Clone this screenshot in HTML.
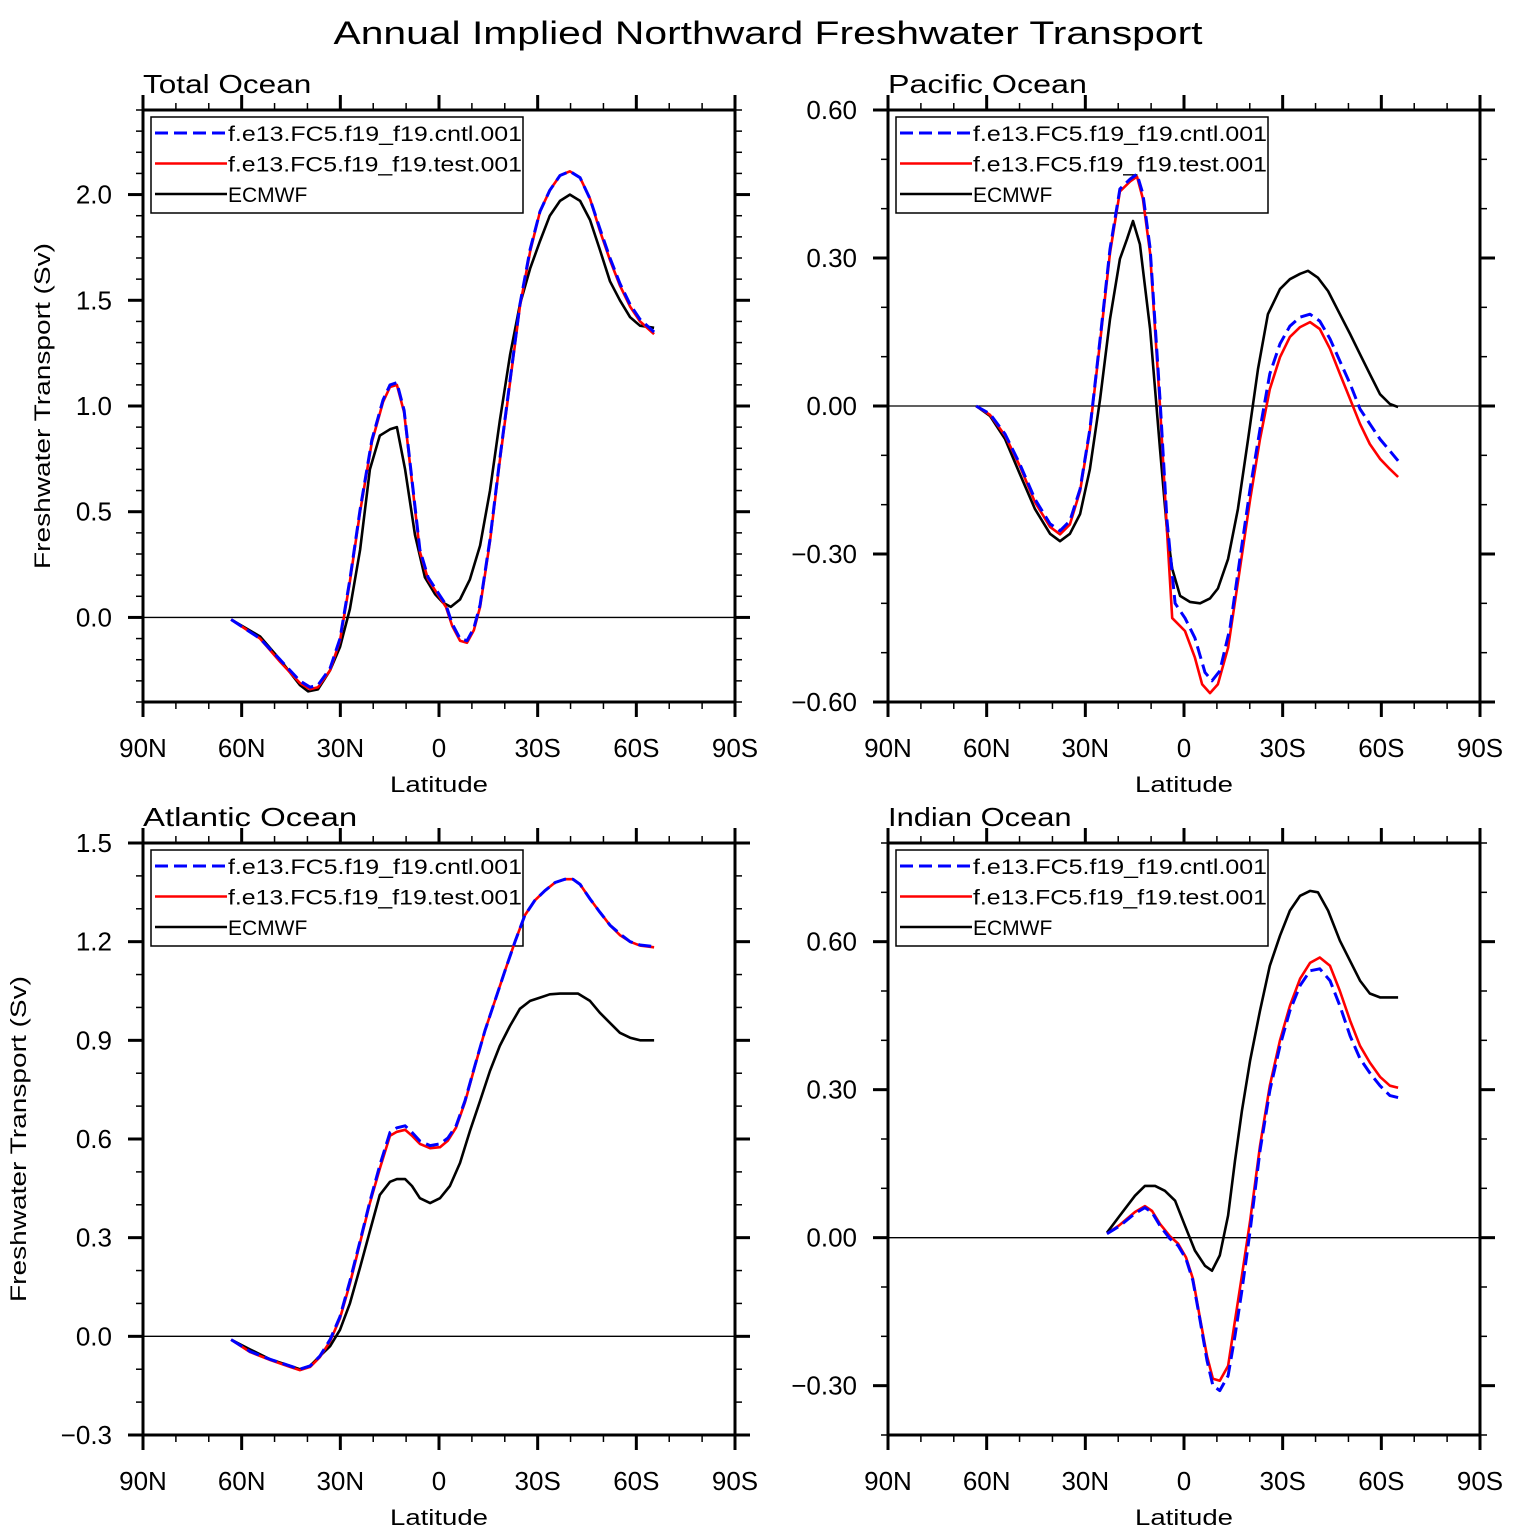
<!DOCTYPE html>
<html><head><meta charset="utf-8">
<style>
html,body{margin:0;padding:0;background:#fff;}
svg{display:block;font-family:"Liberation Sans",sans-serif;}
</style></head>
<body>
<svg id="fig" width="1535" height="1535" viewBox="0 0 1535 1535" xmlns="http://www.w3.org/2000/svg">
<text x="768" y="44" font-size="32" text-anchor="middle" textLength="869" lengthAdjust="spacingAndGlyphs">Annual Implied Northward Freshwater Transport</text>
</svg>
<script>
// ---- Total Ocean ----
const totLatCntl=[63.2,54.4,48.3,42.3,39.2,36.8,33.1,30.1,27.1,24.0,20.4,17.0,14.9,12.8,10.6,8.2,5.8,3.3,0,-2.1,-4.0,-6.4,-8.5,-10.6,-12.5,-15.5,-18.5,-21.6,-24.6,-27.7,-30.7,-33.7,-36.8,-39.8,-42.9,-45.9,-48.9,-52.0,-55.0,-58.1,-61.1,-65.4];
const totCntl=[-0.01,-0.10,-0.2,-0.30,-0.33,-0.32,-0.24,-0.1,0.18,0.51,0.84,1.03,1.10,1.11,0.98,0.65,0.32,0.19,0.11,0.06,-0.03,-0.10,-0.11,-0.05,0.06,0.37,0.75,1.12,1.48,1.74,1.92,2.02,2.09,2.11,2.08,1.98,1.84,1.70,1.58,1.48,1.41,1.35];
const totTest=[-0.01,-0.10,-0.21,-0.31,-0.34,-0.33,-0.25,-0.11,0.17,0.50,0.83,1.02,1.09,1.10,0.97,0.64,0.31,0.18,0.10,0.05,-0.04,-0.11,-0.12,-0.06,0.05,0.36,0.74,1.11,1.47,1.73,1.92,2.02,2.09,2.11,2.08,1.98,1.83,1.69,1.57,1.47,1.40,1.34];
const totLatObs=[63.2,54.4,48.3,42.3,39.8,36.8,33.1,30.1,27.1,24.0,21.0,18.0,14.9,12.8,10.3,7.3,4.3,1.2,-1.2,-3.6,-6.4,-9.4,-12.5,-15.5,-18.5,-21.6,-24.6,-27.7,-30.7,-33.7,-36.8,-39.8,-42.9,-45.9,-48.9,-52.0,-55.0,-58.1,-61.1,-65.4];
const totObs=[-0.01,-0.09,-0.2,-0.32,-0.35,-0.34,-0.25,-0.14,0.04,0.32,0.70,0.86,0.89,0.90,0.70,0.39,0.19,0.11,0.07,0.05,0.085,0.18,0.34,0.60,0.93,1.24,1.48,1.65,1.78,1.90,1.97,2.00,1.97,1.88,1.74,1.59,1.50,1.42,1.38,1.37];
// ---- Pacific Ocean ----
const pacLatCntl=[63.2,59.0,54.4,49.9,45.3,40.7,37.7,34.7,31.6,28.6,25.5,22.5,19.5,16.4,14.3,12.5,10.3,7.3,5.2,3.6,2.7,-0.3,-3.3,-6.4,-8.5,-10.9,-14.0,-17.0,-20.1,-23.1,-26.1,-29.2,-32.2,-35.3,-38.3,-41.3,-44.4,-47.4,-50.5,-53.5,-56.5,-59.6,-62.6,-65.1];
const pacCntl=[0,-0.016,-0.057,-0.118,-0.189,-0.239,-0.253,-0.233,-0.168,-0.047,0.136,0.318,0.44,0.46,0.47,0.43,0.32,0.014,-0.23,-0.34,-0.40,-0.43,-0.47,-0.54,-0.557,-0.537,-0.45,-0.31,-0.168,-0.047,0.065,0.126,0.162,0.18,0.186,0.172,0.136,0.091,0.045,-0.006,-0.036,-0.067,-0.091,-0.111];
const pacLatTest=[63.2,59.0,54.4,49.9,45.3,40.7,37.7,34.7,31.6,28.6,25.5,22.5,19.5,16.4,14.3,12.5,10.3,7.3,5.2,3.6,-0.3,-3.3,-5.5,-7.9,-10.3,-13.4,-17.0,-20.1,-23.1,-26.1,-29.2,-32.2,-35.3,-38.3,-41.3,-44.4,-47.4,-50.5,-53.5,-56.5,-59.6,-62.6,-65.1];
const pacTest=[0,-0.018,-0.06,-0.122,-0.195,-0.245,-0.26,-0.24,-0.172,-0.05,0.13,0.31,0.435,0.455,0.465,0.42,0.31,0.0,-0.25,-0.43,-0.456,-0.51,-0.564,-0.582,-0.564,-0.49,-0.33,-0.19,-0.067,0.034,0.099,0.14,0.16,0.17,0.156,0.116,0.065,0.014,-0.036,-0.077,-0.107,-0.128,-0.144];
const pacLatObs=[63.2,59.0,54.4,49.9,45.3,40.7,37.7,34.7,31.6,28.6,25.5,22.5,19.5,17.3,15.5,13.4,10.3,7.3,5.2,3.6,1.2,-1.8,-4.9,-7.9,-10.3,-13.4,-16.4,-19.5,-22.5,-25.5,-29.2,-32.2,-35.3,-37.7,-40.7,-43.8,-47.4,-50.5,-53.5,-56.5,-59.6,-62.6,-65.1];
const pacObs=[0,-0.02,-0.067,-0.138,-0.209,-0.259,-0.274,-0.259,-0.219,-0.128,0.014,0.176,0.298,0.339,0.375,0.328,0.156,-0.087,-0.249,-0.33,-0.385,-0.397,-0.40,-0.39,-0.37,-0.31,-0.209,-0.067,0.075,0.186,0.237,0.257,0.268,0.274,0.26,0.233,0.186,0.146,0.105,0.065,0.024,0.004,-0.002];
// ---- Atlantic Ocean ----
const atlLatCntl=[63.2,57.4,51.3,45.3,42.3,39.2,36.2,33.1,30.1,27.1,24.0,21.0,18.0,14.9,12.8,10.3,8.2,5.8,2.7,-0.3,-2.7,-5.2,-7.9,-10.9,-14.0,-17.0,-20.0,-23.1,-26.1,-29.1,-32.2,-35.3,-38.3,-40.7,-42.9,-45.9,-48.9,-52.0,-55.0,-58.1,-61.1,-65.4];
const atlCntl=[-0.01,-0.046,-0.07,-0.09,-0.10,-0.09,-0.06,-0.01,0.06,0.168,0.29,0.41,0.52,0.62,0.634,0.64,0.62,0.594,0.58,0.585,0.603,0.64,0.716,0.822,0.93,1.02,1.11,1.20,1.28,1.325,1.355,1.38,1.39,1.39,1.374,1.33,1.29,1.25,1.224,1.20,1.19,1.185];
const atlTest=[-0.01,-0.048,-0.072,-0.093,-0.103,-0.093,-0.063,-0.015,0.055,0.16,0.285,0.405,0.51,0.61,0.622,0.628,0.61,0.585,0.572,0.575,0.595,0.635,0.712,0.82,0.93,1.02,1.11,1.20,1.28,1.325,1.355,1.38,1.39,1.39,1.374,1.33,1.29,1.25,1.22,1.20,1.188,1.183];
const atlLatObs=[63.2,57.4,51.3,45.3,42.3,39.2,36.2,33.1,30.1,27.1,24.0,21.0,18.0,14.9,12.8,10.3,8.2,5.8,2.7,-0.3,-3.3,-6.4,-9.4,-12.5,-15.5,-18.5,-21.6,-24.6,-27.7,-30.7,-33.7,-36.8,-39.8,-42.3,-45.9,-48.9,-52.0,-55.0,-58.1,-61.1,-65.4];
const atlObs=[-0.01,-0.04,-0.07,-0.09,-0.10,-0.09,-0.06,-0.03,0.02,0.10,0.21,0.32,0.43,0.47,0.478,0.478,0.457,0.42,0.405,0.42,0.457,0.527,0.624,0.716,0.807,0.883,0.944,0.996,1.02,1.03,1.04,1.042,1.042,1.042,1.02,0.984,0.953,0.923,0.908,0.90,0.90];
// ---- Indian Ocean ----
const indLatCntl=[23.4,19.5,14.9,11.9,9.7,7.3,4.3,1.8,-0.6,-2.7,-4.9,-7.0,-8.8,-10.9,-13.4,-15.5,-17.6,-20.1,-23.1,-26.1,-29.2,-32.2,-35.3,-38.3,-41.3,-44.4,-47.4,-50.5,-53.5,-56.5,-59.6,-62.6,-65.1];
const indCntl=[0.008,0.024,0.049,0.061,0.051,0.024,-0.002,-0.016,-0.043,-0.087,-0.168,-0.249,-0.30,-0.31,-0.28,-0.199,-0.107,0.014,0.176,0.298,0.389,0.46,0.511,0.541,0.545,0.521,0.47,0.409,0.363,0.334,0.308,0.288,0.284];
const indTest=[0.008,0.026,0.052,0.064,0.054,0.028,0.003,-0.012,-0.04,-0.083,-0.164,-0.24,-0.286,-0.29,-0.26,-0.168,-0.077,0.034,0.186,0.308,0.40,0.47,0.525,0.557,0.568,0.551,0.50,0.44,0.389,0.355,0.326,0.308,0.304];
const indLatObs=[23.4,19.5,14.9,11.9,8.8,5.8,2.7,-0.3,-3.3,-6.4,-8.5,-10.9,-13.4,-15.5,-17.6,-20.1,-23.1,-26.1,-29.2,-32.2,-35.3,-38.3,-40.7,-43.8,-47.4,-50.5,-53.5,-56.5,-59.6,-65.1];
const indObs=[0.01,0.045,0.085,0.105,0.105,0.095,0.075,0.024,-0.026,-0.057,-0.067,-0.036,0.045,0.156,0.257,0.359,0.46,0.551,0.612,0.663,0.693,0.703,0.70,0.663,0.602,0.561,0.521,0.495,0.487,0.487];
// ---- axes ----
const xTickLats=[90,60,30,0,-30,-60,-90];
const xTickLabels=["90N","60N","30N","0","30S","60S","90S"];
const legendLabels=["f.e13.FC5.f19_f19.cntl.001","f.e13.FC5.f19_f19.test.001","ECMWF"];
const totYTicks=[0,0.5,1.0,1.5,2.0];
const pacYTicks=[-0.6,-0.3,0,0.3,0.6];
const atlYTicks=[-0.3,0,0.3,0.6,0.9,1.2,1.5];
const indYTicks=[-0.3,0,0.3,0.6];

const NS="http://www.w3.org/2000/svg";
const svg=document.getElementById('fig');
function mk(tag,attrs,parent){const e=document.createElementNS(NS,tag);for(const k in attrs)e.setAttribute(k,attrs[k]);(parent||svg).appendChild(e);return e;}
function fmt(v,d){const s=Math.abs(v).toFixed(d);return (v<-1e-9?"\u2212":"")+s;}

const panels=[
 {key:'total',title:'Total Ocean',x0:143,y0:110,ymin:-0.4,ymax:2.4,yt:totYTicks,dec:1,ytitleX:42,
  series:[[totLatObs,totObs],[totLatCntl,totTest],[totLatCntl,totCntl]]},
 {key:'pacific',title:'Pacific Ocean',x0:888,y0:110,ymin:-0.6,ymax:0.6,yt:pacYTicks,dec:2,ytitleX:null,
  series:[[pacLatObs,pacObs],[pacLatTest,pacTest],[pacLatCntl,pacCntl]]},
 {key:'atlantic',title:'Atlantic Ocean',x0:143,y0:843,ymin:-0.3,ymax:1.5,yt:atlYTicks,dec:1,ytitleX:18,
  series:[[atlLatObs,atlObs],[atlLatCntl,atlTest],[atlLatCntl,atlCntl]]},
 {key:'indian',title:'Indian Ocean',x0:888,y0:843,ymin:-0.4,ymax:0.8,yt:indYTicks,dec:2,ytitleX:null,
  series:[[indLatObs,indObs],[indLatCntl,indTest],[indLatCntl,indCntl]]}
];
const W=592,H=592;
const styles=[{c:'#000',w:2.6,d:null,n:'ecmwf-line'},{c:'#f00',w:2.6,d:null,n:'test-line'},{c:'#00f',w:3,d:'13 6',n:'cntl-line'}];

panels.forEach(p=>{
  const g=mk('g',{});
  
  
  const xs=lat=>p.x0+(90-lat)/180*W;
  const ys=v=>p.y0+(p.ymax-v)/(p.ymax-p.ymin)*H;
  const t=mk('text',{x:p.x0,y:p.y0-17,'font-size':26,textLength:p.title.length*15.3,lengthAdjust:'spacingAndGlyphs'},g);
  t.textContent=p.title;
  
  
  const zl=mk('line',{x1:p.x0,x2:p.x0+W,y1:ys(0),y2:ys(0),stroke:'#000','stroke-width':1.3},g);
  
  
  // legend (no fill, drawn beneath lines)
  const lg=mk('g',{},g);
  
  
  mk('rect',{x:p.x0+8,y:p.y0+7,width:372,height:96,fill:'none',stroke:'#000','stroke-width':1.5},lg);
  const order=[2,1,0];
  order.forEach((si,r)=>{
    const st=styles[si];const y=p.y0+23+r*30.5;
    const a={x1:p.x0+12,x2:p.x0+84,y1:y,y2:y,stroke:st.c,'stroke-width':st.w};
    if(st.d)a['stroke-dasharray']=st.d;
    mk('line',a,lg);
    const lt=mk('text',{x:p.x0+85,y:y+8,'font-size':21},lg);
    if(r<2){lt.setAttribute('textLength',294);lt.setAttribute('lengthAdjust','spacingAndGlyphs');}
    lt.textContent=legendLabels[r];
    
    
  });
  p.series.forEach((s,i)=>{
    const n=Math.min(s[0].length,s[1].length);
    let d='';
    for(let k=0;k<n;k++){d+=(k?'L':'M')+xs(s[0][k]).toFixed(1)+','+ys(s[1][k]).toFixed(1);}
    const st=styles[i];
    const a={d:d,fill:'none',stroke:st.c,'stroke-width':st.w,'stroke-linejoin':'round'};
    if(st.d)a['stroke-dasharray']=st.d;
    const pa=mk('path',a,g);
    
    
  });
  const fr=mk('rect',{x:p.x0,y:p.y0,width:W,height:H,fill:'none',stroke:'#000','stroke-width':3},g);
  
  
  for(let lat=90;lat>=-90;lat-=10){
    const x=xs(lat);const major=(lat%30===0);const L=major?15:7;const sw=major?3:1.5;
    mk('line',{x1:x,x2:x,y1:p.y0+H,y2:p.y0+H+L,stroke:'#000','stroke-width':sw},g);
    mk('line',{x1:x,x2:x,y1:p.y0,y2:p.y0-L,stroke:'#000','stroke-width':sw},g);
  }
  xTickLats.forEach((lat,i)=>{
    const tx=mk('text',{x:xs(lat),y:p.y0+H+55,'font-size':26,'text-anchor':'middle'},g);
    tx.textContent=xTickLabels[i];
    
    
  });
  const xl=mk('text',{x:p.x0+W/2,y:p.y0+H+90,'font-size':22,'text-anchor':'middle',textLength:98,lengthAdjust:'spacingAndGlyphs'},g);
  xl.textContent='Latitude';
  
  
  const n0=Math.round(p.ymin*10),n1=Math.round(p.ymax*10);
  for(let k=n0;k<=n1;k++){
    const v=k/10;const y=ys(v);
    const major=p.yt.some(t=>Math.abs(t-v)<1e-6);
    const L=major?15:7;const sw=major?3:1.5;
    mk('line',{x1:p.x0,x2:p.x0-L,y1:y,y2:y,stroke:'#000','stroke-width':sw},g);
    mk('line',{x1:p.x0+W,x2:p.x0+W+L,y1:y,y2:y,stroke:'#000','stroke-width':sw},g);
  }
  p.yt.forEach(v=>{
    const ty=mk('text',{x:p.x0-31,y:ys(v)+9,'font-size':26,'text-anchor':'end'},g);
    ty.textContent=fmt(v,p.dec);
    
    
  });
  if(p.ytitleX){
    const cy=p.y0+H/2;
    const yt=mk('text',{x:0,y:0,'font-size':22,'text-anchor':'middle',transform:`translate(${p.ytitleX+8},${cy}) rotate(-90)`,textLength:326,lengthAdjust:'spacingAndGlyphs'},g);
    yt.textContent='Freshwater Transport (Sv)';
    
    
  }
});
</script>
</body></html>
